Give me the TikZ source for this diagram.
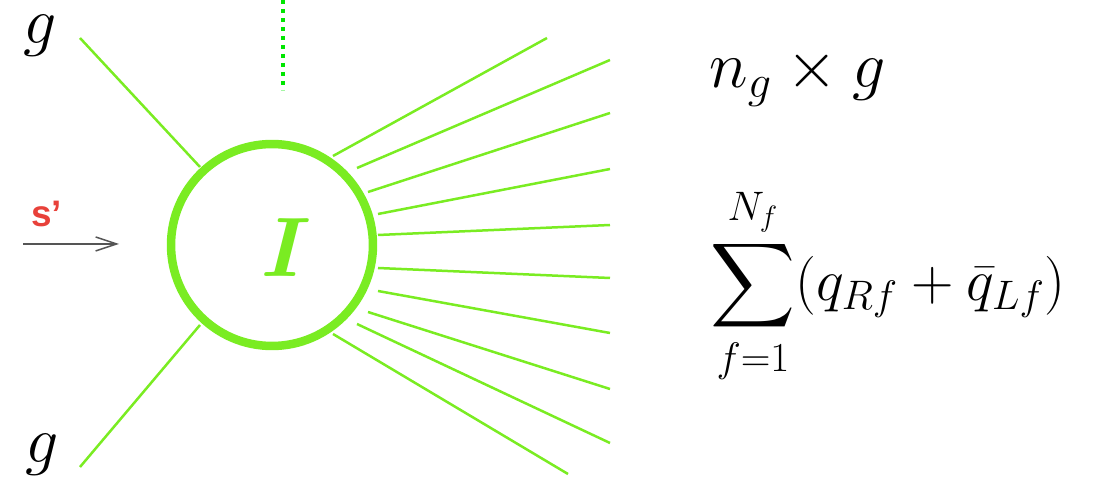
\RequirePackage{fix-cm}
\documentclass[tikz,border=0pt]{standalone}
\usepackage{amsmath}
\usepackage{bm}
\usepackage{fontspec}
\DeclareFontShape{OMX}{cmex}{m}{n}{<->cmex10}{}
\newfontfamily\labelsans{Liberation Sans}
\usetikzlibrary{arrows.meta}
\definecolor{fangreen}{RGB}{122,236,34}
\definecolor{dotgreen}{RGB}{0,230,0}
\definecolor{arrowgray}{RGB}{85,85,85}
\definecolor{sred}{RGB}{232,65,58}
\tikzset{
  leg/.style={fangreen, line width=0.05cm},
  bigmath/.style={inner sep=0pt, font=\fontsize{37.5}{44}\selectfont},
  summath/.style={inner sep=0pt, font=\fontsize{33.5}{40}\selectfont},
  blob/.style={circle, draw=fangreen, line width=0.17cm, minimum size=4.04cm, inner sep=0pt},
}
\begin{document}
\begin{tikzpicture}[x=0.02cm, y=-0.02cm]
\useasboundingbox (0,0) rectangle (1093,489);
% central blob
\node[blob] (I) at (272,245) {};
\node[inner sep=0pt, text=fangreen, font=\fontsize{48}{56}\selectfont] (Ilab) at (286,248) {$\bm{I}$};
% incoming gluons
\node[bigmath, anchor=base west] (gtop) at (23,44) {$g$};
\node[bigmath, anchor=base west] (gbot) at (25,463) {$g$};
\coordinate (gt1) at (80,38);  \coordinate (gt2) at (200,167);
\coordinate (gb1) at (80,467); \coordinate (gb2) at (200,325);
\draw[leg] (gt1) -- (gt2);
\draw[leg] (gb1) -- (gb2);
% dotted line
\coordinate (d1) at (283,0); \coordinate (d2) at (283,90);
\draw[dotgreen, line width=0.08cm, dash pattern=on 0.08cm off 0.1cm] (d1) -- (d2);
% s' arrow
\coordinate (ar1) at (23,244); \coordinate (ar2) at (119,244);
\draw[arrowgray, line width=0.03cm, -{Straight Barb[length=0.42cm, width=0.28cm, line width=0.03cm]}] (ar1) -- (ar2);
\node[text=sred, inner sep=0pt, font=\labelsans\bfseries\fontsize{21}{24}\selectfont, anchor=base west] (sp) at (31,227) {s’};
% outgoing fan
\coordinate (a1) at (333,156);  \coordinate (b1) at (547,38);
\coordinate (a2) at (357,168);  \coordinate (b2) at (610,60);
\coordinate (a3) at (368,192);  \coordinate (b3) at (610,113);
\coordinate (a4) at (378,214);  \coordinate (b4) at (610,169);
\coordinate (a5) at (378,235);  \coordinate (b5) at (610,225);
\coordinate (a6) at (378,268);  \coordinate (b6) at (610,278);
\coordinate (a7) at (378,291);  \coordinate (b7) at (610,333);
\coordinate (a8) at (368,312);  \coordinate (b8) at (610,389);
\coordinate (a9) at (357,324);  \coordinate (b9) at (610,443);
\coordinate (a10) at (333,334); \coordinate (b10) at (568,474);
\foreach \i in {1,...,10} { \draw[leg] (a\i) -- (b\i); }
% right-hand formulas
\node[bigmath, anchor=base west] (ng) at (709,88) {$n_g \times g$};
\node[summath] (sum) at (888,286) {$\displaystyle\sum_{f=1}^{N_f}(q_{Rf}+\bar q_{Lf})$};
\end{tikzpicture}
\end{document}
